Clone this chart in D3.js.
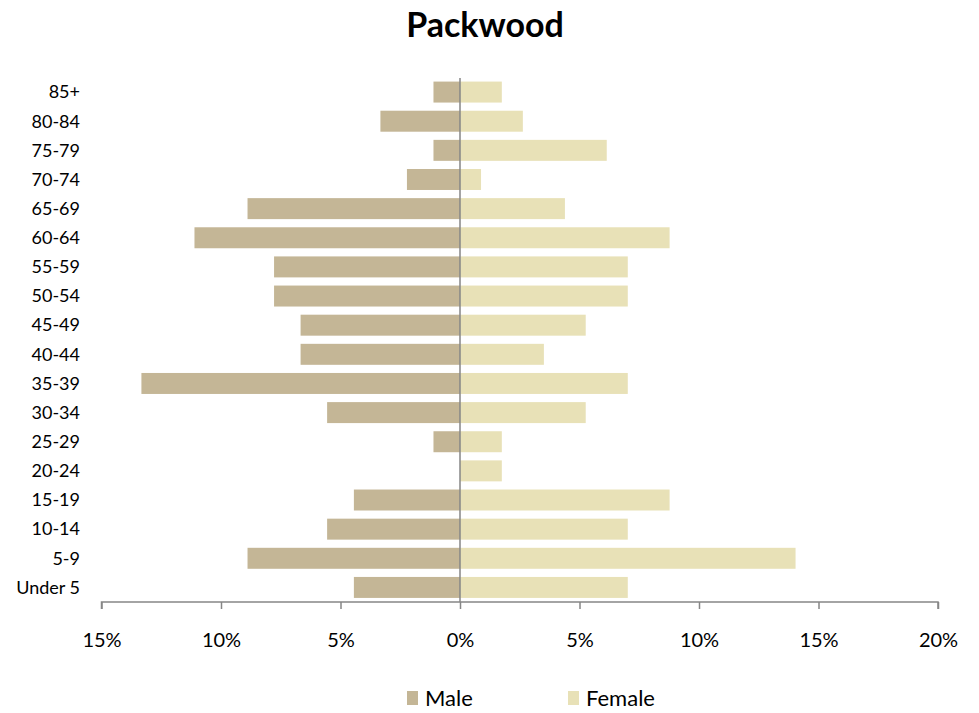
<!DOCTYPE html>
<html>
<head>
<meta charset="utf-8">
<script src="https://cdn.jsdelivr.net/npm/d3@7"></script>
<style>
  body { margin: 0; background: #fff; }
  svg { display: block; font-family: Lato, "Open Sans", sans-serif; }
</style>
</head>
<body>
<svg id="chart" width="979" height="713"></svg>
<script>
const title = "Packwood";
const ageGroups = ["85+", "80-84", "75-79", "70-74", "65-69", "60-64", "55-59", "50-54", "45-49",
  "40-44", "35-39", "30-34", "25-29", "20-24", "15-19", "10-14", "5-9", "Under 5"];
// percent of population (male shown to the left)
const maleValues = [1.11, 3.33, 1.11, 2.22, 8.89, 11.11, 7.78, 7.78, 6.67,
  6.67, 13.33, 5.56, 1.11, 0, 4.44, 5.56, 8.89, 4.44];
const femaleValues = [1.75, 2.63, 6.14, 0.88, 4.39, 8.77, 7.02, 7.02, 5.26,
  3.51, 7.02, 5.26, 1.75, 1.75, 8.77, 7.02, 14.04, 7.02];
const xTicks = [-15, -10, -5, 0, 5, 10, 15, 20];
const seriesNames = ["Male", "Female"];
const colors = { Male: "#C4B696", Female: "#E8E1B7" };

const svg = d3.select("#chart");
const x = d3.scaleLinear().domain([-15, 20]).range([101.5, 938]);
const y = d3.scaleBand().domain(ageGroups).range([77.5, 602]).paddingInner(0.28).paddingOuter(0.14);

svg.append("text").attr("x", 485).attr("y", 37).attr("text-anchor", "middle")
  .attr("font-size", 34).attr("font-weight", "bold").attr("fill", "#000").text(title);

// bars
svg.append("g").selectAll("rect").data(ageGroups).join("rect")
  .attr("x", (d, i) => x(-maleValues[i]))
  .attr("y", d => y(d))
  .attr("width", (d, i) => x(0) - x(-maleValues[i]))
  .attr("height", y.bandwidth())
  .attr("fill", colors.Male);
svg.append("g").selectAll("rect").data(ageGroups).join("rect")
  .attr("x", x(0))
  .attr("y", d => y(d))
  .attr("width", (d, i) => x(femaleValues[i]) - x(0))
  .attr("height", y.bandwidth())
  .attr("fill", colors.Female);

// vertical zero axis
svg.append("line").attr("x1", x(0)).attr("x2", x(0)).attr("y1", 78).attr("y2", 602)
  .attr("stroke", "#868686").attr("stroke-width", 1.5);

// category labels
svg.append("g").selectAll("text").data(ageGroups).join("text")
  .attr("x", 80).attr("y", d => y(d) + y.bandwidth() / 2)
  .attr("dy", "0.35em").attr("text-anchor", "end")
  .attr("font-size", 18).attr("fill", "#000").text(d => d);

// x axis
const xAxis = d3.axisBottom(x).tickValues(xTicks).tickSize(7).tickPadding(24)
  .tickFormat(d => Math.abs(d) + "%");
const gx = svg.append("g").attr("transform", "translate(0,602)").call(xAxis);
gx.select(".domain").attr("stroke", "#868686").attr("stroke-width", 1.5)
  .attr("d", `M${x(-15)},7V0H${x(20)}V7`);
gx.selectAll(".tick line").attr("stroke", "#868686").attr("stroke-width", 1.5);
gx.selectAll(".tick text").attr("font-size", 20).attr("fill", "#000")
  .attr("font-family", "Lato, 'Open Sans', sans-serif");

// legend
const legendX = [407, 568];
const lg = svg.append("g").selectAll("g").data(seriesNames).join("g")
  .attr("transform", (d, i) => `translate(${legendX[i]},690)`);
lg.append("rect").attr("width", 11).attr("height", 14).attr("y", 1).attr("fill", d => colors[d]);
lg.append("text").attr("x", 18).attr("y", 8).attr("dy", "0.35em")
  .attr("font-size", 22).attr("fill", "#000").text(d => d);
</script>
</body>
</html>
